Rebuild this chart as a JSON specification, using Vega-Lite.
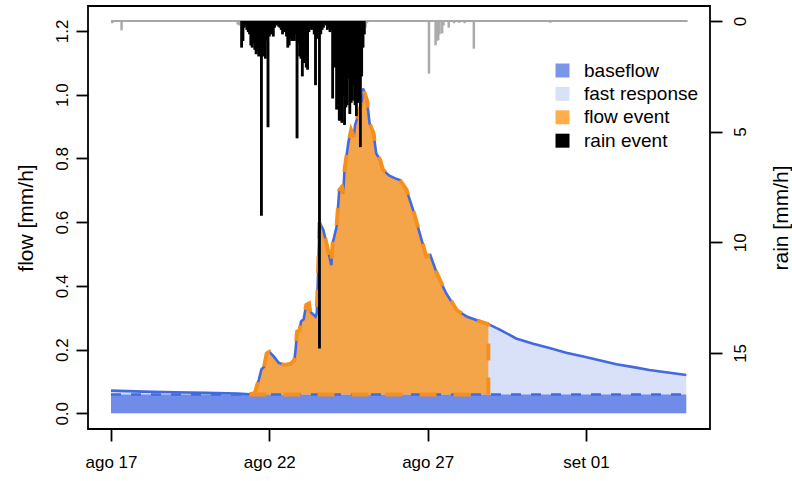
{
  "$schema": "https://vega.github.io/schema/vega-lite/v6.json",
  "width": 622,
  "height": 423,
  "autosize": {"type": "none"},
  "padding": {"left": 88, "top": 6, "right": 82, "bottom": 52},
  "background": "white",
  "config": {
    "font": "Liberation Sans",
    "view": {"stroke": "black", "strokeWidth": 1.8},
    "axis": {
      "domain": false,
      "grid": false,
      "tickColor": "black",
      "tickWidth": 1.8,
      "tickSize": 12,
      "labelFont": "Liberation Sans",
      "labelFontSize": 17,
      "labelColor": "black",
      "labelOverlap": false,
      "labelFlush": false,
      "titleFont": "Liberation Sans",
      "titleFontSize": 21,
      "titleFontWeight": "normal",
      "titleColor": "black"
    }
  },
  "datasets": {
    "flow": [
      {"t": "2016-08-17T00:00", "q": 0.071, "b": 0.059, "ev": 0},
      {"t": "2016-08-18T00:00", "q": 0.068, "b": 0.059, "ev": 0},
      {"t": "2016-08-19T00:00", "q": 0.066, "b": 0.059, "ev": 0},
      {"t": "2016-08-20T00:00", "q": 0.064, "b": 0.059, "ev": 0},
      {"t": "2016-08-21T00:00", "q": 0.062, "b": 0.059, "ev": 0},
      {"t": "2016-08-21T09:00", "q": 0.060, "b": 0.059, "ev": 1},
      {"t": "2016-08-21T13:00", "q": 0.063, "b": 0.059, "ev": 1},
      {"t": "2016-08-21T16:00", "q": 0.105, "b": 0.059, "ev": 1},
      {"t": "2016-08-21T18:00", "q": 0.138, "b": 0.059, "ev": 1},
      {"t": "2016-08-21T20:00", "q": 0.146, "b": 0.059, "ev": 1},
      {"t": "2016-08-21T22:00", "q": 0.188, "b": 0.059, "ev": 1},
      {"t": "2016-08-22T00:00", "q": 0.193, "b": 0.059, "ev": 1},
      {"t": "2016-08-22T03:00", "q": 0.180, "b": 0.059, "ev": 1},
      {"t": "2016-08-22T07:00", "q": 0.159, "b": 0.059, "ev": 1},
      {"t": "2016-08-22T11:00", "q": 0.152, "b": 0.059, "ev": 1},
      {"t": "2016-08-22T16:00", "q": 0.155, "b": 0.059, "ev": 1},
      {"t": "2016-08-22T19:00", "q": 0.167, "b": 0.059, "ev": 1},
      {"t": "2016-08-22T20:00", "q": 0.204, "b": 0.059, "ev": 1},
      {"t": "2016-08-22T21:00", "q": 0.256, "b": 0.059, "ev": 1},
      {"t": "2016-08-22T23:00", "q": 0.261, "b": 0.059, "ev": 1},
      {"t": "2016-08-23T00:00", "q": 0.288, "b": 0.059, "ev": 1},
      {"t": "2016-08-23T02:00", "q": 0.295, "b": 0.059, "ev": 1},
      {"t": "2016-08-23T04:00", "q": 0.340, "b": 0.059, "ev": 1},
      {"t": "2016-08-23T06:00", "q": 0.345, "b": 0.059, "ev": 1},
      {"t": "2016-08-23T07:00", "q": 0.319, "b": 0.059, "ev": 1},
      {"t": "2016-08-23T11:00", "q": 0.303, "b": 0.059, "ev": 1},
      {"t": "2016-08-23T12:00", "q": 0.314, "b": 0.059, "ev": 1},
      {"t": "2016-08-23T13:00", "q": 0.450, "b": 0.059, "ev": 1},
      {"t": "2016-08-23T14:00", "q": 0.600, "b": 0.059, "ev": 1},
      {"t": "2016-08-23T17:00", "q": 0.575, "b": 0.059, "ev": 1},
      {"t": "2016-08-23T21:00", "q": 0.502, "b": 0.059, "ev": 1},
      {"t": "2016-08-23T23:00", "q": 0.465, "b": 0.059, "ev": 1},
      {"t": "2016-08-24T00:00", "q": 0.534, "b": 0.059, "ev": 1},
      {"t": "2016-08-24T03:00", "q": 0.586, "b": 0.059, "ev": 1},
      {"t": "2016-08-24T05:00", "q": 0.701, "b": 0.059, "ev": 1},
      {"t": "2016-08-24T07:00", "q": 0.711, "b": 0.059, "ev": 1},
      {"t": "2016-08-24T08:00", "q": 0.690, "b": 0.059, "ev": 1},
      {"t": "2016-08-24T09:00", "q": 0.764, "b": 0.059, "ev": 1},
      {"t": "2016-08-24T12:00", "q": 0.852, "b": 0.059, "ev": 1},
      {"t": "2016-08-24T14:00", "q": 0.889, "b": 0.059, "ev": 1},
      {"t": "2016-08-24T16:00", "q": 0.868, "b": 0.059, "ev": 1},
      {"t": "2016-08-24T17:00", "q": 0.905, "b": 0.059, "ev": 1},
      {"t": "2016-08-24T19:00", "q": 0.931, "b": 0.059, "ev": 1},
      {"t": "2016-08-24T22:00", "q": 0.973, "b": 0.059, "ev": 1},
      {"t": "2016-08-24T23:00", "q": 1.020, "b": 0.059, "ev": 1},
      {"t": "2016-08-25T02:00", "q": 0.983, "b": 0.059, "ev": 1},
      {"t": "2016-08-25T04:00", "q": 0.910, "b": 0.059, "ev": 1},
      {"t": "2016-08-25T07:00", "q": 0.879, "b": 0.059, "ev": 1},
      {"t": "2016-08-25T09:00", "q": 0.816, "b": 0.059, "ev": 1},
      {"t": "2016-08-25T12:00", "q": 0.795, "b": 0.059, "ev": 1},
      {"t": "2016-08-25T14:00", "q": 0.765, "b": 0.059, "ev": 1},
      {"t": "2016-08-25T17:00", "q": 0.753, "b": 0.059, "ev": 1},
      {"t": "2016-08-25T19:00", "q": 0.746, "b": 0.059, "ev": 1},
      {"t": "2016-08-25T23:00", "q": 0.738, "b": 0.059, "ev": 1},
      {"t": "2016-08-26T03:00", "q": 0.732, "b": 0.059, "ev": 1},
      {"t": "2016-08-26T08:00", "q": 0.701, "b": 0.059, "ev": 1},
      {"t": "2016-08-26T13:00", "q": 0.638, "b": 0.059, "ev": 1},
      {"t": "2016-08-26T18:00", "q": 0.565, "b": 0.059, "ev": 1},
      {"t": "2016-08-26T23:00", "q": 0.492, "b": 0.059, "ev": 1},
      {"t": "2016-08-27T02:00", "q": 0.497, "b": 0.059, "ev": 1},
      {"t": "2016-08-27T07:00", "q": 0.439, "b": 0.059, "ev": 1},
      {"t": "2016-08-27T14:00", "q": 0.377, "b": 0.059, "ev": 1},
      {"t": "2016-08-27T22:00", "q": 0.324, "b": 0.059, "ev": 1},
      {"t": "2016-08-28T06:00", "q": 0.303, "b": 0.059, "ev": 1},
      {"t": "2016-08-28T16:00", "q": 0.288, "b": 0.059, "ev": 1},
      {"t": "2016-08-28T22:00", "q": 0.280, "b": 0.059, "ev": 2},
      {"t": "2016-08-29T07:00", "q": 0.262, "b": 0.059, "ev": 0},
      {"t": "2016-08-29T19:00", "q": 0.235, "b": 0.059, "ev": 0},
      {"t": "2016-08-30T08:00", "q": 0.218, "b": 0.059, "ev": 0},
      {"t": "2016-08-30T21:00", "q": 0.204, "b": 0.059, "ev": 0},
      {"t": "2016-08-31T09:00", "q": 0.190, "b": 0.059, "ev": 0},
      {"t": "2016-08-31T22:00", "q": 0.178, "b": 0.059, "ev": 0},
      {"t": "2016-09-01T11:00", "q": 0.166, "b": 0.059, "ev": 0},
      {"t": "2016-09-01T23:00", "q": 0.154, "b": 0.059, "ev": 0},
      {"t": "2016-09-02T12:00", "q": 0.145, "b": 0.059, "ev": 0},
      {"t": "2016-09-03T00:00", "q": 0.136, "b": 0.059, "ev": 0},
      {"t": "2016-09-03T14:00", "q": 0.128, "b": 0.059, "ev": 0},
      {"t": "2016-09-04T04:00", "q": 0.120, "b": 0.059, "ev": 0}
    ],
    "rain": [
      {"t": "2016-08-17T00:00", "r": 0, "ev": false},
      {"t": "2016-08-17T01:00", "r": 0.1, "ev": false},
      {"t": "2016-08-17T08:00", "r": 0.42, "ev": false},
      {"t": "2016-08-21T00:00", "r": 0.15, "ev": false},
      {"t": "2016-08-21T01:00", "r": 0.2, "ev": false},
      {"t": "2016-08-21T02:00", "r": 0.1, "ev": false},
      {"t": "2016-08-21T03:00", "r": 1.2, "ev": true},
      {"t": "2016-08-21T04:00", "r": 0.9, "ev": true},
      {"t": "2016-08-21T05:00", "r": 0.3, "ev": true},
      {"t": "2016-08-21T06:00", "r": 0.2, "ev": true},
      {"t": "2016-08-21T07:00", "r": 0.4, "ev": true},
      {"t": "2016-08-21T08:00", "r": 0.5, "ev": true},
      {"t": "2016-08-21T09:00", "r": 0.6, "ev": true},
      {"t": "2016-08-21T10:00", "r": 1.1, "ev": true},
      {"t": "2016-08-21T11:00", "r": 1.2, "ev": true},
      {"t": "2016-08-21T12:00", "r": 1.0, "ev": true},
      {"t": "2016-08-21T13:00", "r": 1.3, "ev": true},
      {"t": "2016-08-21T14:00", "r": 1.5, "ev": true},
      {"t": "2016-08-21T15:00", "r": 1.4, "ev": true},
      {"t": "2016-08-21T16:00", "r": 1.6, "ev": true},
      {"t": "2016-08-21T17:00", "r": 1.5, "ev": true},
      {"t": "2016-08-21T18:00", "r": 8.8, "ev": true},
      {"t": "2016-08-21T19:00", "r": 1.6, "ev": true},
      {"t": "2016-08-21T20:00", "r": 1.5, "ev": true},
      {"t": "2016-08-21T21:00", "r": 1.7, "ev": true},
      {"t": "2016-08-21T22:00", "r": 0.9, "ev": true},
      {"t": "2016-08-21T23:00", "r": 4.8, "ev": true},
      {"t": "2016-08-22T00:00", "r": 0.7, "ev": true},
      {"t": "2016-08-22T01:00", "r": 0.6, "ev": true},
      {"t": "2016-08-22T02:00", "r": 0.5, "ev": true},
      {"t": "2016-08-22T03:00", "r": 0.7, "ev": true},
      {"t": "2016-08-22T04:00", "r": 0.3, "ev": true},
      {"t": "2016-08-22T05:00", "r": 0.2, "ev": true},
      {"t": "2016-08-22T06:00", "r": 0.15, "ev": true},
      {"t": "2016-08-22T07:00", "r": 0.25, "ev": true},
      {"t": "2016-08-22T08:00", "r": 0.3, "ev": true},
      {"t": "2016-08-22T09:00", "r": 0.4, "ev": true},
      {"t": "2016-08-22T10:00", "r": 0.6, "ev": true},
      {"t": "2016-08-22T11:00", "r": 0.5, "ev": true},
      {"t": "2016-08-22T12:00", "r": 0.4, "ev": true},
      {"t": "2016-08-22T13:00", "r": 0.7, "ev": true},
      {"t": "2016-08-22T14:00", "r": 1.2, "ev": true},
      {"t": "2016-08-22T15:00", "r": 1.1, "ev": true},
      {"t": "2016-08-22T16:00", "r": 0.8, "ev": true},
      {"t": "2016-08-22T17:00", "r": 0.9, "ev": true},
      {"t": "2016-08-22T18:00", "r": 0.7, "ev": true},
      {"t": "2016-08-22T19:00", "r": 0.9, "ev": true},
      {"t": "2016-08-22T20:00", "r": 0.6, "ev": true},
      {"t": "2016-08-22T21:00", "r": 5.3, "ev": true},
      {"t": "2016-08-22T22:00", "r": 1.0, "ev": true},
      {"t": "2016-08-22T23:00", "r": 1.6, "ev": true},
      {"t": "2016-08-23T00:00", "r": 1.7, "ev": true},
      {"t": "2016-08-23T01:00", "r": 2.5, "ev": true},
      {"t": "2016-08-23T02:00", "r": 1.9, "ev": true},
      {"t": "2016-08-23T03:00", "r": 1.2, "ev": true},
      {"t": "2016-08-23T04:00", "r": 2.1, "ev": true},
      {"t": "2016-08-23T05:00", "r": 2.2, "ev": true},
      {"t": "2016-08-23T06:00", "r": 0.5, "ev": true},
      {"t": "2016-08-23T07:00", "r": 0.3, "ev": true},
      {"t": "2016-08-23T08:00", "r": 0.4, "ev": true},
      {"t": "2016-08-23T09:00", "r": 0.3, "ev": true},
      {"t": "2016-08-23T10:00", "r": 0.6, "ev": true},
      {"t": "2016-08-23T11:00", "r": 2.9, "ev": true},
      {"t": "2016-08-23T12:00", "r": 0.8, "ev": true},
      {"t": "2016-08-23T13:00", "r": 0.5, "ev": true},
      {"t": "2016-08-23T14:00", "r": 14.8, "ev": true},
      {"t": "2016-08-23T15:00", "r": 0.6, "ev": true},
      {"t": "2016-08-23T16:00", "r": 0.4, "ev": true},
      {"t": "2016-08-23T17:00", "r": 0.3, "ev": true},
      {"t": "2016-08-23T18:00", "r": 0.1, "ev": true},
      {"t": "2016-08-23T19:00", "r": 0.2, "ev": true},
      {"t": "2016-08-23T20:00", "r": 0.4, "ev": true},
      {"t": "2016-08-23T21:00", "r": 0.3, "ev": true},
      {"t": "2016-08-23T22:00", "r": 0.5, "ev": true},
      {"t": "2016-08-23T23:00", "r": 0.4, "ev": true},
      {"t": "2016-08-24T00:00", "r": 3.5, "ev": true},
      {"t": "2016-08-24T01:00", "r": 1.5, "ev": true},
      {"t": "2016-08-24T02:00", "r": 2.1, "ev": true},
      {"t": "2016-08-24T03:00", "r": 4.0, "ev": true},
      {"t": "2016-08-24T04:00", "r": 3.2, "ev": true},
      {"t": "2016-08-24T05:00", "r": 4.5, "ev": true},
      {"t": "2016-08-24T06:00", "r": 4.5, "ev": true},
      {"t": "2016-08-24T07:00", "r": 4.6, "ev": true},
      {"t": "2016-08-24T08:00", "r": 3.4, "ev": true},
      {"t": "2016-08-24T09:00", "r": 4.7, "ev": true},
      {"t": "2016-08-24T10:00", "r": 3.9, "ev": true},
      {"t": "2016-08-24T11:00", "r": 3.8, "ev": true},
      {"t": "2016-08-24T12:00", "r": 2.6, "ev": true},
      {"t": "2016-08-24T13:00", "r": 4.2, "ev": true},
      {"t": "2016-08-24T14:00", "r": 3.7, "ev": true},
      {"t": "2016-08-24T15:00", "r": 3.6, "ev": true},
      {"t": "2016-08-24T16:00", "r": 2.9, "ev": true},
      {"t": "2016-08-24T17:00", "r": 3.8, "ev": true},
      {"t": "2016-08-24T18:00", "r": 4.3, "ev": true},
      {"t": "2016-08-24T19:00", "r": 3.7, "ev": true},
      {"t": "2016-08-24T20:00", "r": 3.2, "ev": true},
      {"t": "2016-08-24T21:00", "r": 5.7, "ev": true},
      {"t": "2016-08-24T22:00", "r": 2.5, "ev": true},
      {"t": "2016-08-24T23:00", "r": 1.2, "ev": true},
      {"t": "2016-08-25T00:00", "r": 0.6, "ev": true},
      {"t": "2016-08-25T01:00", "r": 0.3, "ev": false},
      {"t": "2016-08-25T02:00", "r": 0.1, "ev": false},
      {"t": "2016-08-27T01:00", "r": 2.38, "ev": false},
      {"t": "2016-08-27T06:00", "r": 1.1, "ev": false},
      {"t": "2016-08-27T07:00", "r": 0.9, "ev": false},
      {"t": "2016-08-27T08:00", "r": 0.87, "ev": false},
      {"t": "2016-08-27T09:00", "r": 0.6, "ev": false},
      {"t": "2016-08-27T11:00", "r": 0.56, "ev": false},
      {"t": "2016-08-27T12:00", "r": 0.2, "ev": false},
      {"t": "2016-08-27T16:00", "r": 0.3, "ev": false},
      {"t": "2016-08-27T20:00", "r": 0.1, "ev": false},
      {"t": "2016-08-28T00:00", "r": 0.08, "ev": false},
      {"t": "2016-08-28T04:00", "r": 0.1, "ev": false},
      {"t": "2016-08-28T11:00", "r": 1.25, "ev": false},
      {"t": "2016-08-30T21:00", "r": 0.08, "ev": false},
      {"t": "2016-09-04T05:00", "r": 0, "ev": false}
    ]
  },
  "encoding": {
    "x": {
      "field": "t",
      "type": "temporal",
      "title": null,
      "scale": {
        "domain": [
          {"year": 2016, "month": 8, "date": 16, "hours": 6, "minutes": 34},
          {"year": 2016, "month": 9, "date": 4, "hours": 22}
        ]
      },
      "axis": {
        "values": [
          {"year": 2016, "month": 8, "date": 17},
          {"year": 2016, "month": 8, "date": 22},
          {"year": 2016, "month": 8, "date": 27},
          {"year": 2016, "month": 9, "date": 1}
        ],
        "labelExpr": "(month(datum.value) == 7 ? 'ago' : 'set') + ' ' + timeFormat(datum.value, '%d')",
        "labelAngle": 0,
        "labelAlign": "center",
        "labelBaseline": "top",
        "labelPadding": 13
      }
    }
  },
  "layer": [
    {
      "data": {"name": "flow", "format": {"parse": {"t": "date"}}},
      "encoding": {
        "y": {
          "field": "q",
          "type": "quantitative",
          "title": "flow [mm/h]",
          "scale": {"domain": [-0.0493, 1.2784], "nice": false, "zero": false},
          "axis": {
            "values": [0, 0.2, 0.4, 0.6, 0.8, 1.0, 1.2],
            "format": ".1f",
            "labelAngle": -90,
            "labelAlign": "center",
            "labelBaseline": "alphabetic",
            "labelPadding": 9,
            "titleAngle": -90,
            "titleAlign": "center",
            "titleBaseline": "middle",
            "titleX": -62,
            "titleY": 211.5
          }
        }
      },
      "layer": [
        {
          "mark": {"type": "area", "opacity": 1},
          "encoding": {
            "y2": {"datum": 0},
            "color": {
              "datum": "fast response",
              "type": "nominal",
              "scale": {
                "domain": ["baseflow", "fast response", "flow event", "rain event"],
                "range": ["rgba(65,105,225,0.7)", "rgba(65,105,225,0.2)", "rgba(255,140,0,0.7)", "black"]
              },
              "legend": {
                "title": null,
                "orient": "none",
                "legendX": 465,
                "legendY": 55,
                "padding": 0,
                "symbolType": "square",
                "symbolSize": 196,
                "symbolStrokeWidth": 0,
                "labelFont": "Liberation Sans",
                "labelFontSize": 19,
                "labelColor": "black",
                "labelOffset": 12,
                "rowPadding": 3.4,
                "encode": {
                  "symbols": {
                    "update": {
                      "fill": {"scale": "color", "field": "value"},
                      "stroke": {"value": "transparent"},
                      "strokeWidth": {"value": 0},
                      "opacity": {"value": 1}
                    }
                  }
                }
              }
            }
          }
        },
        {
          "mark": {"type": "area", "opacity": 1},
          "encoding": {
            "y": {"field": "b", "type": "quantitative", "title": "flow [mm/h]"},
            "y2": {"datum": 0},
            "color": {"datum": "baseflow", "type": "nominal"}
          }
        },
        {
          "transform": [{"filter": "datum.ev > 0"}],
          "mark": {"type": "area", "opacity": 1},
          "encoding": {
            "y2": {"field": "b"},
            "color": {"datum": "flow event", "type": "nominal"}
          }
        },
        {
          "mark": {"type": "line", "color": "#4169E1", "strokeWidth": 2.6},
          "encoding": {}
        },
        {
          "mark": {"type": "line", "color": "#4169E1", "strokeWidth": 2.6, "strokeDash": [10, 10]},
          "encoding": {
            "y": {"field": "b", "type": "quantitative", "title": "flow [mm/h]"}
          }
        },
        {
          "transform": [{"filter": "datum.ev > 0"}],
          "mark": {"type": "line", "color": "#F59020", "strokeWidth": 4, "strokeDash": [17, 17]},
          "encoding": {}
        },
        {
          "transform": [{"filter": "datum.ev > 0"}],
          "mark": {"type": "line", "color": "#F59020", "strokeWidth": 4, "strokeDash": [17, 17]},
          "encoding": {
            "y": {"field": "b", "type": "quantitative", "title": "flow [mm/h]"}
          }
        },
        {
          "transform": [{"filter": "datum.ev == 2"}],
          "mark": {"type": "rule", "color": "#F59020", "strokeWidth": 4, "strokeDash": [17, 17]},
          "encoding": {
            "y": {"field": "b", "type": "quantitative", "title": "flow [mm/h]"},
            "y2": {"field": "q"}
          }
        }
      ]
    },
    {
      "data": {"name": "rain", "format": {"parse": {"t": "date"}}},
      "layer": [
        {
          "transform": [{"filter": "datum.r > 0"}],
          "mark": {"type": "rule", "color": "#ABABAB", "strokeWidth": 2.5},
          "encoding": {
            "y": {
              "field": "r",
              "type": "quantitative",
              "title": "rain [mm/h]",
              "scale": {"domain": [-0.678, 18.44], "reverse": true, "nice": false, "zero": false},
              "axis": {
                "orient": "right",
                "values": [0, 5, 10, 15],
                "labelAngle": -90,
                "labelAlign": "center",
                "labelBaseline": "top",
                "labelPadding": 10,
                "titleAngle": -90,
                "titleAlign": "center",
                "titleBaseline": "middle",
                "titleX": 71,
                "titleY": 211.5
              }
            },
            "y2": {"datum": 0}
          }
        },
        {
          "transform": [
            {"aggregate": [
              {"op": "min", "field": "t", "as": "t0"},
              {"op": "max", "field": "t", "as": "t1"}
            ]}
          ],
          "mark": {"type": "rule", "color": "#A6A6A6", "strokeWidth": 2.2},
          "encoding": {
            "x": {"field": "t0", "type": "temporal", "title": null},
            "x2": {"field": "t1"},
            "y": {"datum": 0, "type": "quantitative"}
          }
        },
        {
          "transform": [{"filter": "datum.ev"}],
          "mark": {"type": "rule", "strokeWidth": 2.8},
          "encoding": {
            "y": {"field": "r", "type": "quantitative", "title": "rain [mm/h]"},
            "y2": {"datum": 0},
            "color": {"datum": "rain event", "type": "nominal"}
          }
        }
      ]
    }
  ],
  "resolve": {"scale": {"y": "independent"}}
}
